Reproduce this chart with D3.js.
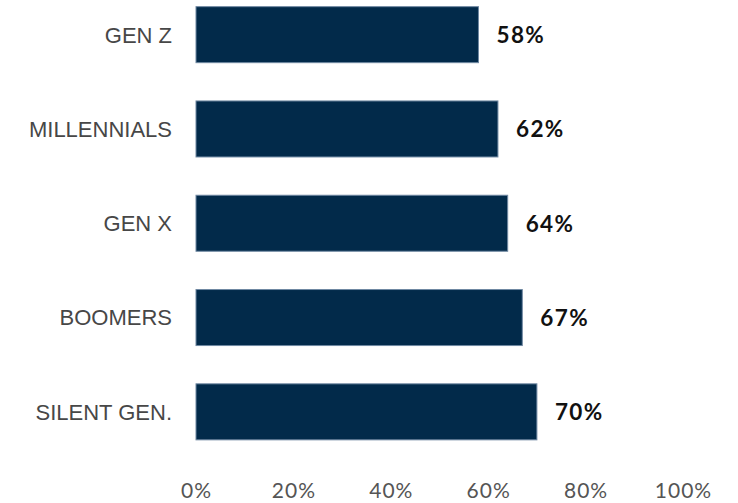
<!DOCTYPE html>
<html>
<head>
<meta charset="utf-8">
<script src="https://cdn.jsdelivr.net/npm/d3@7"></script>
<style>
  html, body { margin: 0; padding: 0; background: #ffffff; }
  svg { display: block; }
</style>
</head>
<body>
<div id="chart"></div>
<script>
// Share of each generation, in percent
const generations = ["GEN Z", "MILLENNIALS", "GEN X", "BOOMERS", "SILENT GEN."];
const shares = [58, 62, 64, 67, 70];
const tickValues = [0, 20, 40, 60, 80, 100];

const width = 738, height = 503;
const margin = { left: 196 };

const svg = d3.select("#chart").append("svg")
  .attr("width", width)
  .attr("height", height);

const x = d3.scaleLinear()
  .domain([0, 100])
  .range([margin.left, 683]);

const y = d3.scaleBand()
  .domain(generations)
  .range([-12.2, 458.7])
  .paddingInner(0.406)
  .paddingOuter(0.2);

const rows = generations.map((g, i) => ({ name: g, value: shares[i] }));

// Bars
svg.append("g").selectAll("rect")
  .data(rows)
  .join("rect")
  .attr("x", x(0))
  .attr("y", d => y(d.name))
  .attr("width", d => x(d.value) - x(0))
  .attr("height", y.bandwidth())
  .attr("fill", "#022a4a")
  .attr("stroke", "#6f88a2")
  .attr("stroke-width", 1);

// Category labels
svg.append("g").selectAll("text")
  .data(rows)
  .join("text")
  .attr("x", x(0) - 24)
  .attr("y", d => y(d.name) + y.bandwidth() / 2)
  .attr("dy", "0.36em")
  .attr("text-anchor", "end")
  .attr("font-family", "'Liberation Sans', Arial, sans-serif")
  .attr("font-size", 22)
  .attr("fill", "#474747")
  .text(d => d.name);

// Value labels
svg.append("g").selectAll("text")
  .data(rows)
  .join("text")
  .attr("x", d => x(d.value) + 18)
  .attr("y", d => y(d.name) + y.bandwidth() / 2)
  .attr("dy", "0.37em")
  .attr("font-family", "Lato, 'Open Sans', sans-serif")
  .attr("font-weight", 700)
  .attr("font-size", 22.5)
  .attr("letter-spacing", 1.4)
  .attr("fill", "#111111")
  .text(d => d.value + "%");

// Bottom axis, labels only
const axis = d3.axisBottom(x)
  .tickValues(tickValues)
  .tickFormat(d => d + "%")
  .tickSize(0)
  .tickPadding(0);

const gx = svg.append("g")
  .attr("transform", "translate(0,483)")
  .call(axis);
gx.select(".domain").remove();
gx.selectAll("text")
  .attr("font-family", "Lato, 'Open Sans', sans-serif")
  .attr("font-size", 21)
  .attr("letter-spacing", 1)
  .attr("fill", "#555555")
  .attr("dy", "0.71em");
</script>
</body>
</html>
